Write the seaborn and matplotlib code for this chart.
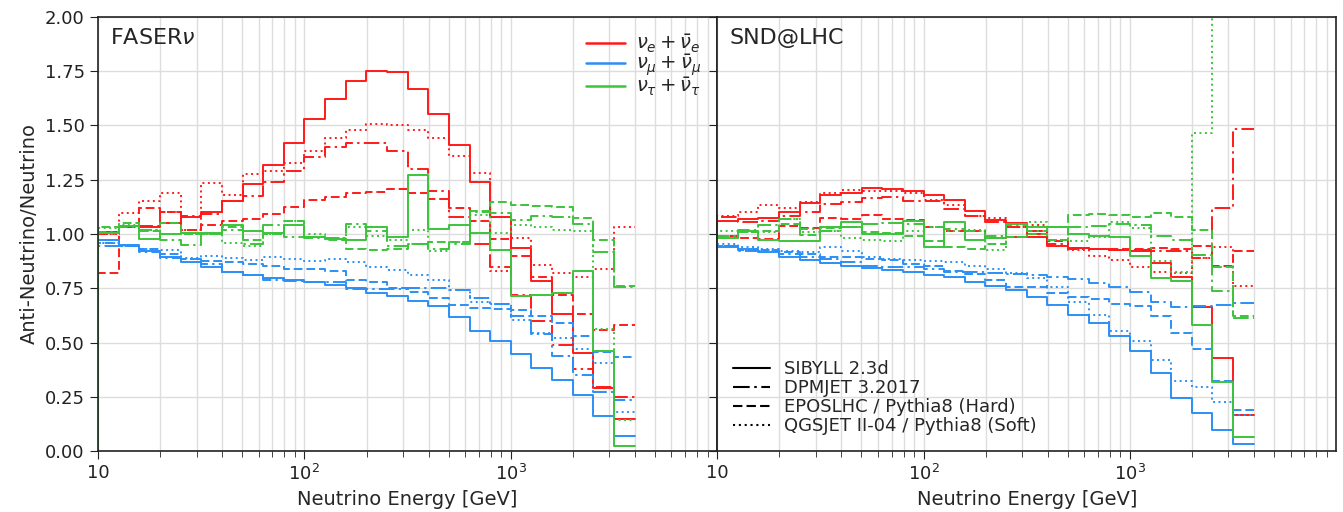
import numpy as np
import pandas as pd
import matplotlib
matplotlib.use("Agg")
import matplotlib.pyplot as plt
import seaborn as sns
from matplotlib.ticker import FixedLocator, FixedFormatter, LogLocator, NullFormatter
from matplotlib.lines import Line2D

# energy bins: 0.1 decade wide, 10 GeV -> 10^3.6 GeV
log_edges = [1.0 + 0.1 * i for i in range(27)]
edges = [10 ** e for e in log_edges]

flavors = [r"$\nu_e + \bar{\nu}_e$", r"$\nu_\mu + \bar{\nu}_\mu$", r"$\nu_\tau + \bar{\nu}_\tau$"]
models = ["SIBYLL 2.3d", "DPMJET 3.2017", "EPOSLHC / Pythia8 (Hard)", "QGSJET II-04 / Pythia8 (Soft)"]
colors = ["#ff1a1a", "#2b8ff5", "#3cc43c"]

# FASERnu ratios
faser_e_sibyll = [1.01, 1.035, 1.03, 1.05, 1.08, 1.10, 1.15, 1.23, 1.32, 1.42, 1.53, 1.62, 1.705, 1.75, 1.745, 1.67, 1.555, 1.41, 1.24, 1.08, 0.935, 0.785, 0.63, 0.45, 0.29, 0.15]
faser_e_dpmjet = [1.0, 1.03, 1.035, 1.10, 1.085, 1.09, 1.15, 1.175, 1.24, 1.29, 1.355, 1.40, 1.42, 1.42, 1.38, 1.30, 1.20, 1.08, 0.955, 0.85, 0.72, 0.60, 0.49, 0.38, 0.295, 0.25]
faser_e_epos = [0.82, 1.03, 1.12, 1.10, 1.02, 1.04, 1.06, 1.07, 1.09, 1.125, 1.155, 1.17, 1.19, 1.195, 1.205, 1.19, 1.16, 1.12, 1.06, 0.975, 0.90, 0.80, 0.72, 0.63, 0.56, 0.58]
faser_e_qgsjet = [1.0, 1.095, 1.15, 1.19, 1.02, 1.235, 1.18, 1.275, 1.29, 1.325, 1.38, 1.44, 1.48, 1.505, 1.50, 1.48, 1.44, 1.36, 1.28, 0.83, 0.98, 0.855, 0.82, 0.80, 0.84, 1.03]

faser_mu_sibyll = [0.97, 0.95, 0.92, 0.895, 0.873, 0.847, 0.824, 0.811, 0.798, 0.788, 0.778, 0.765, 0.75, 0.73, 0.715, 0.693, 0.67, 0.617, 0.552, 0.505, 0.448, 0.382, 0.328, 0.26, 0.161, 0.069]
faser_mu_dpmjet = [0.946, 0.946, 0.915, 0.89, 0.885, 0.86, 0.826, 0.813, 0.79, 0.782, 0.778, 0.778, 0.747, 0.747, 0.747, 0.75, 0.75, 0.74, 0.705, 0.678, 0.62, 0.54, 0.437, 0.35, 0.27, 0.236]
faser_mu_epos = [0.957, 0.946, 0.93, 0.908, 0.885, 0.877, 0.87, 0.862, 0.851, 0.839, 0.839, 0.831, 0.788, 0.778, 0.752, 0.735, 0.704, 0.675, 0.658, 0.655, 0.652, 0.624, 0.59, 0.528, 0.455, 0.432]
faser_mu_qgsjet = [0.957, 0.946, 0.93, 0.925, 0.89, 0.90, 0.89, 0.88, 0.893, 0.885, 0.877, 0.885, 0.87, 0.847, 0.836, 0.81, 0.79, 0.74, 0.685, 0.678, 0.604, 0.543, 0.52, 0.47, 0.405, 0.18]

faser_tau_sibyll = [1.003, 1.035, 0.977, 1.0, 1.003, 1.005, 1.04, 1.012, 1.005, 1.043, 0.988, 0.977, 0.97, 1.03, 0.988, 1.273, 1.023, 1.043, 1.005, 0.926, 0.716, 0.72, 0.727, 0.828, 0.463, 0.023]
faser_tau_dpmjet = [1.01, 1.03, 1.02, 0.972, 0.95, 1.0, 1.02, 0.954, 1.043, 0.988, 0.98, 0.98, 1.046, 1.012, 0.946, 0.954, 0.93, 0.955, 1.10, 1.095, 1.064, 1.084, 1.08, 1.046, 0.916, 0.755]
faser_tau_epos = [1.03, 1.05, 1.015, 1.05, 1.0, 1.0, 1.03, 0.97, 1.0, 1.058, 0.988, 0.972, 0.93, 0.926, 0.93, 0.954, 0.965, 0.965, 1.107, 1.146, 1.133, 1.13, 1.123, 1.074, 0.972, 0.762]
faser_tau_qgsjet = [1.026, 1.04, 1.02, 1.0, 1.0, 1.0, 0.96, 0.946, 1.0, 1.06, 1.0, 0.98, 1.034, 0.99, 0.97, 1.018, 0.923, 0.965, 1.087, 1.005, 1.04, 1.034, 1.018, 1.015, 0.563, 0.144]

# SND@LHC ratios
snd_e_sibyll = [1.058, 1.069, 1.072, 1.103, 1.141, 1.18, 1.187, 1.21, 1.207, 1.2, 1.18, 1.156, 1.104, 1.064, 1.05, 0.985, 0.946, 0.936, 0.931, 0.926, 0.92, 0.865, 0.80, 0.663, 0.428, 0.167]
snd_e_dpmjet = [1.077, 1.054, 1.06, 1.084, 1.10, 1.138, 1.146, 1.164, 1.169, 1.153, 1.15, 1.115, 1.084, 1.054, 1.03, 1.015, 0.954, 0.93, 0.93, 0.926, 0.926, 0.923, 0.923, 0.89, 1.12, 1.483]
snd_e_epos = [0.992, 0.98, 0.977, 1.038, 1.028, 1.072, 1.07, 1.089, 1.069, 1.066, 1.034, 1.015, 1.015, 0.982, 0.988, 1.0, 0.966, 0.936, 0.931, 0.931, 0.931, 0.936, 0.931, 0.946, 0.854, 0.92]
snd_e_qgsjet = [1.084, 1.103, 1.133, 1.12, 1.146, 1.19, 1.204, 1.2, 1.196, 1.19, 1.156, 1.135, 1.084, 1.074, 1.03, 1.04, 0.97, 0.926, 0.90, 0.88, 0.847, 0.824, 0.82, 0.89, 0.94, 0.76]

snd_mu_sibyll = [0.939, 0.931, 0.916, 0.896, 0.88, 0.865, 0.854, 0.844, 0.834, 0.824, 0.813, 0.80, 0.78, 0.762, 0.74, 0.712, 0.675, 0.627, 0.589, 0.532, 0.46, 0.359, 0.244, 0.175, 0.098, 0.031]
snd_mu_dpmjet = [0.946, 0.923, 0.923, 0.908, 0.896, 0.885, 0.87, 0.854, 0.85, 0.847, 0.839, 0.824, 0.824, 0.82, 0.816, 0.813, 0.80, 0.793, 0.773, 0.755, 0.732, 0.686, 0.663, 0.67, 0.673, 0.68]
snd_mu_epos = [0.946, 0.926, 0.926, 0.916, 0.908, 0.896, 0.896, 0.885, 0.88, 0.862, 0.854, 0.828, 0.816, 0.788, 0.758, 0.755, 0.727, 0.712, 0.70, 0.678, 0.67, 0.62, 0.543, 0.47, 0.325, 0.19]
snd_mu_qgsjet = [0.954, 0.939, 0.931, 0.923, 0.916, 0.942, 0.92, 0.896, 0.885, 0.88, 0.877, 0.87, 0.854, 0.839, 0.82, 0.797, 0.755, 0.686, 0.629, 0.555, 0.506, 0.42, 0.325, 0.294, 0.225, 0.164]

snd_tau_sibyll = [0.982, 1.015, 0.972, 0.969, 0.969, 1.034, 1.054, 1.0, 1.0, 1.06, 0.942, 1.054, 0.972, 0.98, 1.045, 1.034, 1.034, 1.0, 0.992, 0.988, 0.90, 0.798, 0.785, 0.583, 0.32, 0.064]
snd_tau_dpmjet = [0.99, 1.018, 1.043, 1.069, 1.023, 1.015, 1.03, 1.046, 1.049, 1.046, 1.034, 1.023, 1.015, 0.99, 1.043, 1.015, 1.03, 1.034, 1.038, 1.046, 1.043, 0.992, 0.97, 0.905, 0.736, 0.613]
snd_tau_epos = [0.982, 1.008, 1.015, 1.046, 0.997, 1.028, 1.03, 1.008, 1.005, 0.992, 0.966, 0.942, 0.93, 0.954, 0.988, 1.0, 0.97, 1.089, 1.092, 1.087, 1.08, 1.097, 1.08, 1.018, 0.847, 0.624]
snd_tau_qgsjet = [1.012, 1.008, 1.008, 1.069, 1.008, 1.015, 0.982, 0.972, 0.966, 1.015, 1.034, 1.015, 1.018, 0.926, 0.988, 1.054, 1.03, 0.966, 0.985, 1.054, 1.026, 0.877, 0.824, 1.463, 5.0, 5.0]

faser = [[faser_e_sibyll, faser_e_dpmjet, faser_e_epos, faser_e_qgsjet],
         [faser_mu_sibyll, faser_mu_dpmjet, faser_mu_epos, faser_mu_qgsjet],
         [faser_tau_sibyll, faser_tau_dpmjet, faser_tau_epos, faser_tau_qgsjet]]
snd = [[snd_e_sibyll, snd_e_dpmjet, snd_e_epos, snd_e_qgsjet],
       [snd_mu_sibyll, snd_mu_dpmjet, snd_mu_epos, snd_mu_qgsjet],
       [snd_tau_sibyll, snd_tau_dpmjet, snd_tau_epos, snd_tau_qgsjet]]


#Build step outlines: rise from zero at the first edge, end flat at the last edge
def step_frame(table):
    rows = []
    for flav, series in zip(flavors, table):
        for model, vals in zip(models, series):
            xs = [edges[0]] + edges
            ys = [0.0] + vals + [vals[-1]]
            for x, y in zip(xs, ys):
                rows.append((flav, model, x, y))
    return pd.DataFrame(rows, columns=["flavor", "model", "energy", "ratio"])


dash_map = {models[0]: "", models[1]: (8, 2.2, 1.2, 2.2), models[2]: (4.5, 2), models[3]: (1, 1.8)}

sns.set_style("ticks")
plt.rcParams["font.family"] = ["DejaVu Sans"]
plt.rcParams["axes.edgecolor"] = "#222222"
plt.rcParams["xtick.color"] = "#222222"
plt.rcParams["ytick.color"] = "#222222"

fig, axes = plt.subplots(1, 2, figsize=(13.43, 5.12), dpi=100, sharey=True)
fig.subplots_adjust(left=0.073, right=0.995, top=0.967, bottom=0.119, wspace=0)

for ax, table, name in zip(axes, [faser, snd], ["FASER$\\nu$", "SND@LHC"]):
    ax.set_xscale("log")
    sns.lineplot(data=step_frame(table), x="energy", y="ratio",
                 hue="flavor", style="model",
                 hue_order=flavors, style_order=models,
                 palette=colors, dashes=dash_map,
                 estimator=None, sort=False, drawstyle="steps-post",
                 lw=1.4, legend=False, ax=ax)
    ax.set_xlim(10, 1e4)
    ax.set_ylim(0, 2)
    ax.xaxis.set_major_locator(FixedLocator([10, 100, 1000]))
    ax.xaxis.set_major_formatter(FixedFormatter(["10", "$10^2$", "$10^3$"]))
    ax.xaxis.set_minor_locator(LogLocator(base=10, subs=np.arange(2, 10), numticks=20))
    ax.xaxis.set_minor_formatter(NullFormatter())
    ax.set_yticks(np.arange(0, 2.01, 0.25))
    ax.grid(True, which="both", axis="x", color="#dddddd", lw=1)
    ax.grid(True, which="major", axis="y", color="#dddddd", lw=1)
    ax.set_axisbelow(True)
    ax.tick_params(axis="both", which="major", labelsize=13, length=6)
    ax.tick_params(axis="x", which="minor", length=4)
    ax.set_xlabel("Neutrino Energy [GeV]", fontsize=14)
    ax.text(0.02, 0.975, name, transform=ax.transAxes, fontsize=16, va="top")
    for s in ax.spines.values():
        s.set_linewidth(1.2)

axes[0].yaxis.set_major_formatter(matplotlib.ticker.FormatStrFormatter("%.2f"))
axes[0].set_ylabel("Anti-Neutrino/Neutrino", fontsize=14)
axes[1].set_ylabel("")

#Legends
flav_handles = [Line2D([], [], color=c, lw=1.8) for c in colors]
axes[0].legend(flav_handles, flavors, loc="upper right", frameon=False,
               fontsize=14, labelspacing=-0.1, handlelength=2.0,
               handletextpad=0.6, borderaxespad=0.4)

model_handles = [Line2D([], [], color="black", lw=1.5, dashes=dash_map[m]) if dash_map[m] else
                 Line2D([], [], color="black", lw=1.5) for m in models]
axes[1].legend(model_handles, models, loc="lower left", frameon=False,
               fontsize=13, labelspacing=0.05, handlelength=2.0)

plt.savefig("out.png", dpi=100)
